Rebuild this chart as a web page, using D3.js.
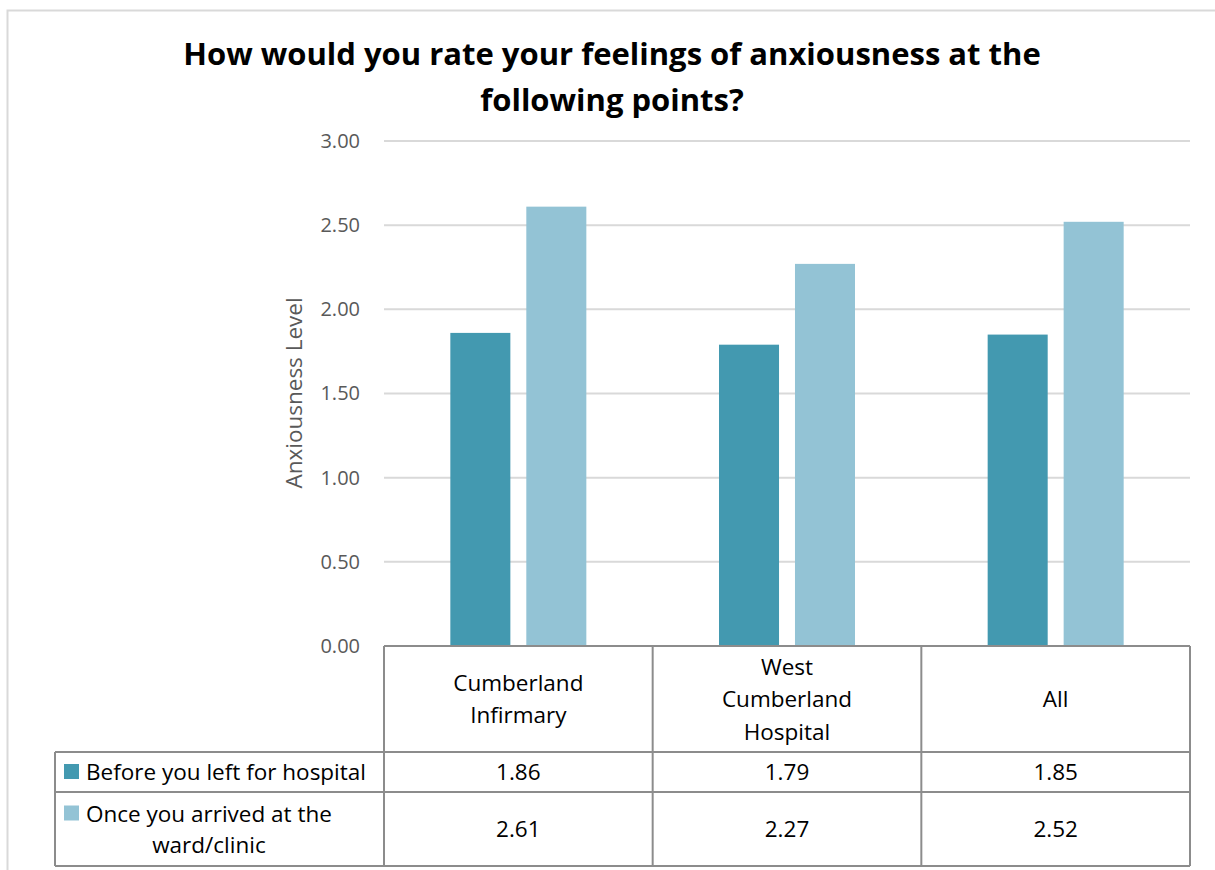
<!DOCTYPE html>
<html>
<head>
<meta charset="utf-8">
<script src="https://cdn.jsdelivr.net/npm/d3@7"></script>
<style>
  body { margin: 0; background: #fff; }
  svg { display: block; }
</style>
</head>
<body>
<div id="chart"></div>
<script>
// Chart data
const categories = [["Cumberland", "Infirmary"], ["West", "Cumberland", "Hospital"], ["All"]];
const seriesNames = ["Before you left for hospital", "Once you arrived at the ward/clinic"];
const legendLines = [["Before you left for hospital"], ["Once you arrived at the", "ward/clinic"]];
const beforeValues = [1.86, 1.79, 1.85];
const arrivedValues = [2.61, 2.27, 2.52];
const yTicks = [0, 0.5, 1, 1.5, 2, 2.5, 3];
const colors = ["#4399b0", "#93c3d5"];

const W = 1215, H = 870;
const font = "'Open Sans', sans-serif";

const svg = d3.select("#chart").append("svg")
    .attr("width", W)
    .attr("height", H);

// outer chart border
svg.append("rect")
    .attr("x", 7.5).attr("y", 10.5)
    .attr("width", W + 20).attr("height", H + 20)
    .style("fill", "none")
    .style("stroke", "#d9d9d9")
    .style("stroke-width", 2);

// title
const title = svg.append("text")
    .attr("text-anchor", "middle")
    .style("font-family", font)
    .style("font-weight", "bold")
    .style("font-size", "31px")
    .style("fill", "#000");
title.append("tspan").attr("x", 612).attr("y", 65).text("How would you rate your feelings of anxiousness at the");
title.append("tspan").attr("x", 612).attr("y", 111).text("following points?");

// scales
const x = d3.scaleBand()
    .domain(categories.map(d => d.join(" ")))
    .range([384, 1190]);

const xInner = d3.scaleBand()
    .domain(seriesNames)
    .range([0, x.bandwidth()])
    .paddingInner(0.21)
    .paddingOuter(0.873);

const y = d3.scaleLinear()
    .domain([0, 3])
    .range([646, 141]);

// gridlines
svg.append("g")
    .selectAll("line")
    .data(yTicks)
    .enter().append("line")
    .attr("x1", 384).attr("x2", 1190)
    .attr("y1", d => y(d)).attr("y2", d => y(d))
    .style("stroke", "#d9d9d9")
    .style("stroke-width", 2);

// y axis tick labels
const yAxis = d3.axisLeft(y).tickValues(yTicks).tickFormat(d3.format(".2f")).tickSize(0).tickPadding(24);
const yg = svg.append("g")
    .attr("transform", "translate(384,0)")
    .call(yAxis);
yg.select(".domain").remove();
yg.selectAll("text")
    .style("font-family", font)
    .style("font-size", "20px")
    .style("fill", "#595959");

// y axis title
svg.append("text")
    .attr("transform", "translate(302,393) rotate(-90)")
    .attr("text-anchor", "middle")
    .style("font-family", font)
    .style("font-size", "22.5px")
    .style("fill", "#595959")
    .text("Anxiousness Level");

// bars
const rows = seriesNames.map((s, i) => ({
    name: s,
    values: (i === 0 ? beforeValues : arrivedValues).map((v, j) => ({ cat: categories[j].join(" "), v: v }))
}));

rows.forEach((row, i) => {
    svg.append("g")
        .selectAll("rect")
        .data(row.values)
        .enter().append("rect")
        .attr("x", d => x(d.cat) + xInner(row.name))
        .attr("width", xInner.bandwidth())
        .attr("y", d => y(d.v))
        .attr("height", d => y(0) - y(d.v))
        .style("fill", colors[i]);
});

// data table
const tableColor = "#8c8c8c";
const rowTops = [646, 752, 792, 866];
const tableLeft = 55;
const table = svg.append("g")
    .style("stroke", tableColor)
    .style("stroke-width", 2);

// horizontal lines
table.append("line").attr("x1", 384).attr("x2", 1190).attr("y1", rowTops[0]).attr("y2", rowTops[0]);
rowTops.slice(1).forEach(t => {
    table.append("line").attr("x1", tableLeft).attr("x2", 1190).attr("y1", t).attr("y2", t);
});
// vertical lines
table.append("line").attr("x1", tableLeft).attr("x2", tableLeft).attr("y1", rowTops[1]).attr("y2", rowTops[3]);
x.domain().forEach(c => {
    table.append("line").attr("x1", x(c)).attr("x2", x(c)).attr("y1", rowTops[0]).attr("y2", rowTops[3]);
});
table.append("line").attr("x1", 1190).attr("x2", 1190).attr("y1", rowTops[0]).attr("y2", rowTops[3]);

const cellText = svg.append("g")
    .style("font-family", font)
    .style("font-size", "22.5px")
    .style("fill", "#000")
    .attr("text-anchor", "middle");

// header cells
const lineH = 32.5;
categories.forEach(lines => {
    const cx = x(lines.join(" ")) + x.bandwidth() / 2;
    const mid = (rowTops[0] + rowTops[1]) / 2 + 8;
    const t = cellText.append("text");
    lines.forEach((l, k) => {
        t.append("tspan")
            .attr("x", cx)
            .attr("y", mid + (k - (lines.length - 1) / 2) * lineH)
            .text(l);
    });
});

// value cells
rows.forEach((row, i) => {
    const mid = (rowTops[i + 1] + rowTops[i + 2]) / 2 + 8;
    row.values.forEach(d => {
        cellText.append("text")
            .attr("x", x(d.cat) + x.bandwidth() / 2)
            .attr("y", mid)
            .text(d3.format(".2f")(d.v));
    });
});

// legend cells
legendLines.forEach((lines, i) => {
    const mid = (rowTops[i + 1] + rowTops[i + 2]) / 2;
    const top = mid - (lines.length - 1) / 2 * 31;
    svg.append("rect")
        .attr("x", 64).attr("y", top - 8)
        .attr("width", 15).attr("height", 15)
        .style("fill", colors[i]);
    const t = svg.append("text")
        .style("font-family", font)
        .style("font-size", "22.5px")
        .style("fill", "#000");
    const first = t.append("tspan").attr("x", 86).attr("y", top + 8).text(lines[0]);
    if (lines.length > 1) {
        const w = first.node().getComputedTextLength();
        lines.slice(1).forEach((l, k) => {
            t.append("tspan")
                .attr("x", 86 + w / 2)
                .attr("y", top + 8 + (k + 1) * 31)
                .attr("text-anchor", "middle")
                .text(l);
        });
    }
});
</script>
</body>
</html>
